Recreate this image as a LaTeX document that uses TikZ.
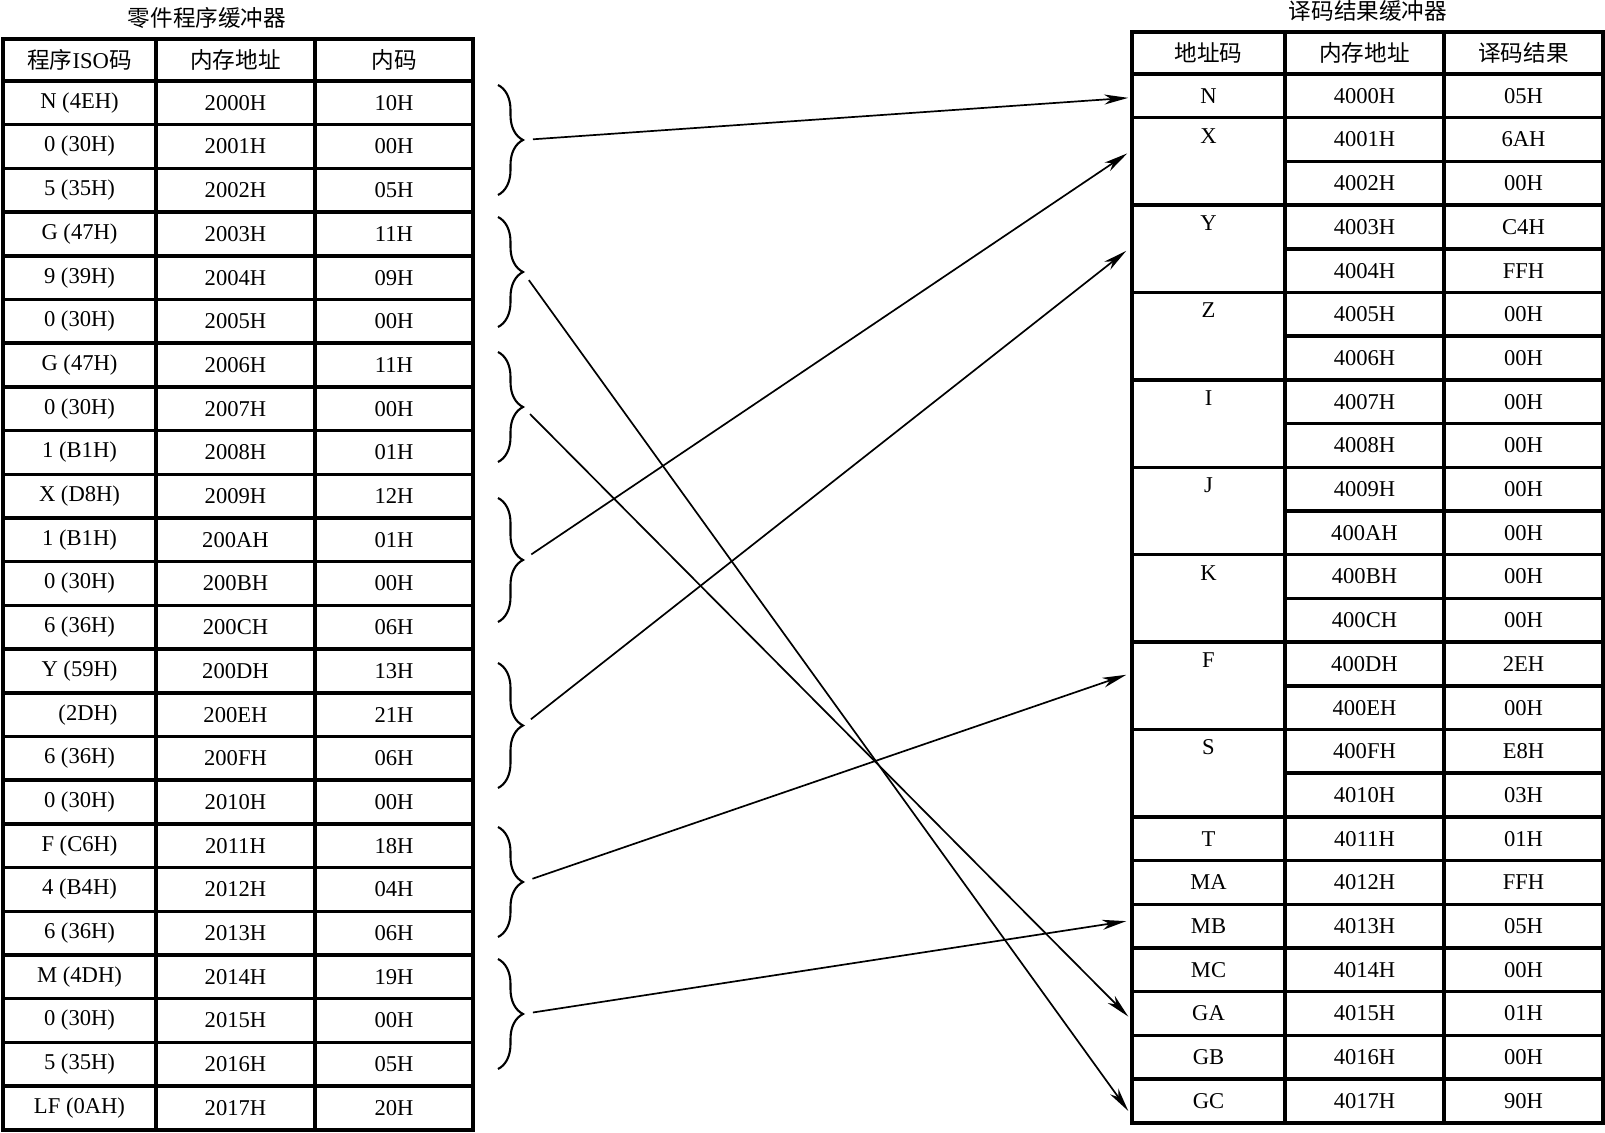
\documentclass[tikz,border=0pt]{standalone}
\usepackage{fontspec}
\setmainfont{Liberation Serif}
\newfontfamily\cjk{Noto Sans CJK SC}
\usetikzlibrary{arrows.meta,decorations.pathreplacing,calc}
\begin{document}
\begin{tikzpicture}[x=0.5pt,y=-0.5pt,
  cell/.style={draw, line width=1.75pt, inner sep=0pt, font=\fontsize{11.3}{13}\selectfont},
  txt/.style={inner sep=0pt, font=\fontsize{11.3}{13}\selectfont},
  conn/.style={line width=0.85pt, shorten <=5pt, -{Stealth[length=12pt,width=5pt,inset=3.5pt]}},
  brc/.style={line width=1.05pt, decorate, decoration={brace, amplitude=12.5pt}}
]
\useasboundingbox (0,0) rectangle (1605,1133);

% titles
\node[txt] (titleL) at (207,18) {\cjk 零件程序缓冲器};
\node[txt] (titleR) at (1368,11) {\cjk 译码结果缓冲器};

% left table header
\node[cell, minimum width=76.5pt, minimum height=21pt] (Lh1) at (79.5,60) {{\cjk 程序}ISO{\cjk 码}};
\node[cell, minimum width=79.5pt, minimum height=21pt] (Lh2) at (235.5,60) {\cjk 内存地址};
\node[cell, minimum width=79pt, minimum height=21pt] (Lh3) at (394,60) {\cjk 内码};

% left table rows
\foreach \ca/\cb/\cc [count=\i] in {
  N (4EH)/2000H/10H, 0 (30H)/2001H/00H, 5 (35H)/2002H/05H,
  G (47H)/2003H/11H, 9 (39H)/2004H/09H, 0 (30H)/2005H/00H,
  G (47H)/2006H/11H, 0 (30H)/2007H/00H, 1 (B1H)/2008H/01H,
  X (D8H)/2009H/12H, 1 (B1H)/200AH/01H, 0 (30H)/200BH/00H,
  6 (36H)/200CH/06H, Y (59H)/200DH/13H, \phantom{–}~(2DH)/200EH/21H,
  6 (36H)/200FH/06H, 0 (30H)/2010H/00H, F (C6H)/2011H/18H,
  4 (B4H)/2012H/04H, 6 (36H)/2013H/06H, M (4DH)/2014H/19H,
  0 (30H)/2015H/00H, 5 (35H)/2016H/05H, LF (0AH)/2017H/20H} {
  \pgfmathsetmacro\yy{81+43.7*(\i-0.5)}
  \node[cell, minimum width=76.5pt, minimum height=21.85pt] (La\i) at (79.5,\yy) {\ca};
  \node[cell, minimum width=79.5pt, minimum height=21.85pt] (Lb\i) at (235.5,\yy) {\cb};
  \node[cell, minimum width=79pt, minimum height=21.85pt] (Lc\i) at (394,\yy) {\cc};
}

% right table header
\node[cell, minimum width=76.5pt, minimum height=21pt] (Rh1) at (1208.5,53) {\cjk 地址码};
\node[cell, minimum width=79.5pt, minimum height=21pt] (Rh2) at (1364.5,53) {\cjk 内存地址};
\node[cell, minimum width=79.5pt, minimum height=21pt] (Rh3) at (1523.5,53) {\cjk 译码结果};

% right table address / result columns
\foreach \cb/\cc [count=\i] in {
  4000H/05H, 4001H/6AH, 4002H/00H, 4003H/C4H, 4004H/FFH, 4005H/00H,
  4006H/00H, 4007H/00H, 4008H/00H, 4009H/00H, 400AH/00H, 400BH/00H,
  400CH/00H, 400DH/2EH, 400EH/00H, 400FH/E8H, 4010H/03H, 4011H/01H,
  4012H/FFH, 4013H/05H, 4014H/00H, 4015H/01H, 4016H/00H, 4017H/90H} {
  \pgfmathsetmacro\yy{74+43.7*(\i-0.5)}
  \node[cell, minimum width=79.5pt, minimum height=21.85pt] (Rb\i) at (1364.5,\yy) {\cb};
  \node[cell, minimum width=79.5pt, minimum height=21.85pt] (Rc\i) at (1523.5,\yy) {\cc};
}

% right table code column (merged cells)
\foreach \lab/\s/\n in {N/1/1, X/2/2, Y/4/2, Z/6/2, I/8/2, J/10/2, K/12/2,
  F/14/2, S/16/2, T/18/1, MA/19/1, MB/20/1, MC/21/1, GA/22/1, GB/23/1, GC/24/1} {
  \pgfmathsetmacro\yc{74+43.7*(\s-1)+43.7*\n/2}
  \pgfmathsetmacro\hh{21.85*\n}
  \pgfmathsetmacro\yl{74+43.7*(\s-1)+(\n==1 ? 21.85 : 18)}
  \node[cell, minimum width=76.5pt, minimum height=\hh pt] (r\lab) at (1208.5,\yc) {};
  \node[txt] (t\lab) at (1208.5,\yl) {\lab};
}

% braces
\foreach \tp/\bt/\k in {85/195/1, 217/327/2, 352/462/3, 498/622/4, 663/788/5, 827/937/6, 959/1069/7} {
  \draw[brc] (498,\tp) -- (498,\bt);
  \coordinate (b\k) at (523,{(\tp+\bt)/2});
}

% arrow end points
\coordinate (eN) at ($(rN.west)+(-2,2)$);
\coordinate (eX) at ($(rX.west)+(-3,-8)$);
\coordinate (eY) at ($(rY.west)+(-4,2)$);
\coordinate (eF) at ($(rF.west)+(-4,-11)$);
\coordinate (eMB) at ($(rMB.west)+(-4,-5)$);
\coordinate (eGA) at ($(rGA.west)+(-2,3)$);
\coordinate (eGC) at ($(rGC.west)+(-2,10)$);

% connectors
\draw[conn] (b1) -- (eN);
\draw[conn] (b2) -- (eGC);
\draw[conn] (b3) -- (eGA);
\draw[conn] (b4) -- (eX);
\draw[conn] (b5) -- (eY);
\draw[conn] (b6) -- (eF);
\draw[conn] (b7) -- (eMB);
\end{tikzpicture}
\end{document}
